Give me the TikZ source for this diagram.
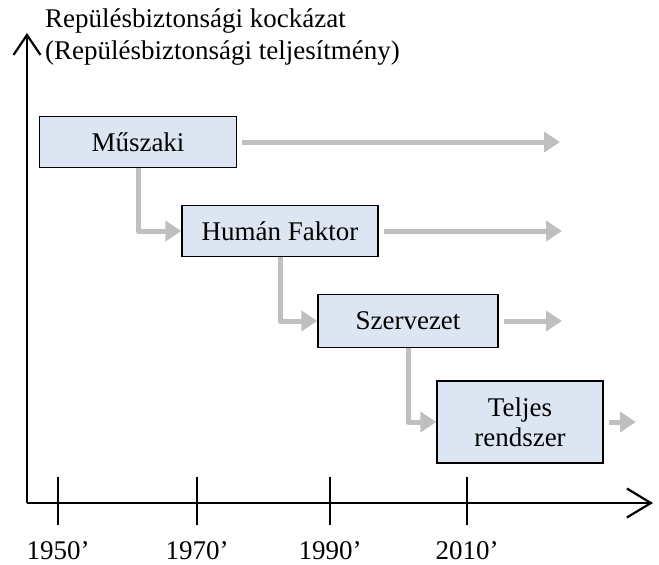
\documentclass[tikz,border=0pt]{standalone}
\usepackage{fontspec}
\setmainfont{Liberation Serif}
\usepackage{tikz}
\usetikzlibrary{positioning, arrows.meta, calc}
\definecolor{SafeBlue}{RGB}{220,230,242}
\definecolor{SafeGray}{RGB}{191,191,191}

\begin{document}
\begin{tikzpicture}[
      x=1pt, y=-1pt,
      era/.style={rectangle, draw=black, line width=1.3pt, fill=SafeBlue,
                  inner sep=0pt, font=\fontsize{27}{30}\selectfont,
                  align=center},
      axis/.style={line width=2.2pt, black},
      flow/.style={-{Triangle[length=16pt, width=20pt]}, line width=5pt,
                   SafeGray, line join=round},
      lbl/.style={font=\fontsize{27}{32}\selectfont, inner sep=0pt}
    ]
    \useasboundingbox (0,0) rectangle (659,565);

    % Axes
    \coordinate (origin) at (27,503);
    \coordinate (ytop) at (27,33);
    \coordinate (xend) at (653,503);
    \draw[axis, -{Straight Barb[length=20pt, width=27pt, line width=2.2pt]}]
          (origin) -- (ytop);
    \draw[axis, -{Straight Barb[length=24pt, width=29pt, line width=2.2pt]}]
          (origin) -- (xend);
    \node[lbl, anchor=north west, align=left] (ytitle) at (45,9)
          {Repülésbiztonsági kockázat\\(Repülésbiztonsági teljesítmény)};

    % Decades
    \foreach \d/\x in {1950/58, 1970/197, 1990/330, 2010/467} {
      \draw[axis] (\x,477) -- (\x,525);
      \node[lbl, anchor=base] (yr\d) at (\x,559) {\d'};
    }

    % Eras
    \node[era, minimum width=197pt, minimum height=51pt] (tech) at (138,142) {Műszaki};
    \node[era, minimum width=196pt, minimum height=51pt] (human) at (280,231) {Humán Faktor};
    \node[era, minimum width=180pt, minimum height=53pt] (org) at (408,321) {Szervezet};
    \node[era, minimum width=166pt, minimum height=82pt] (system) at (520,422)
          {Teljes\\rendszer};

    % Continuing influence
    \coordinate (techend) at (560,142);
    \coordinate (humanend) at (562,231);
    \coordinate (orgend) at (562,321);
    \coordinate (systemend) at (636,422);
    \draw[flow, shorten <=5pt] (tech) -- (techend);
    \draw[flow, shorten <=5pt] (human) -- (humanend);
    \draw[flow, shorten <=5pt] (org) -- (orgend);
    \draw[flow, shorten <=5pt] (system) -- (systemend);

    % Transitions
    \draw[flow] (tech.south) |- (human.west);
    \draw[flow] (human.south) |- (org.west);
    \draw[flow] (org.south) |- (system.west);
  \end{tikzpicture}
\end{document}
